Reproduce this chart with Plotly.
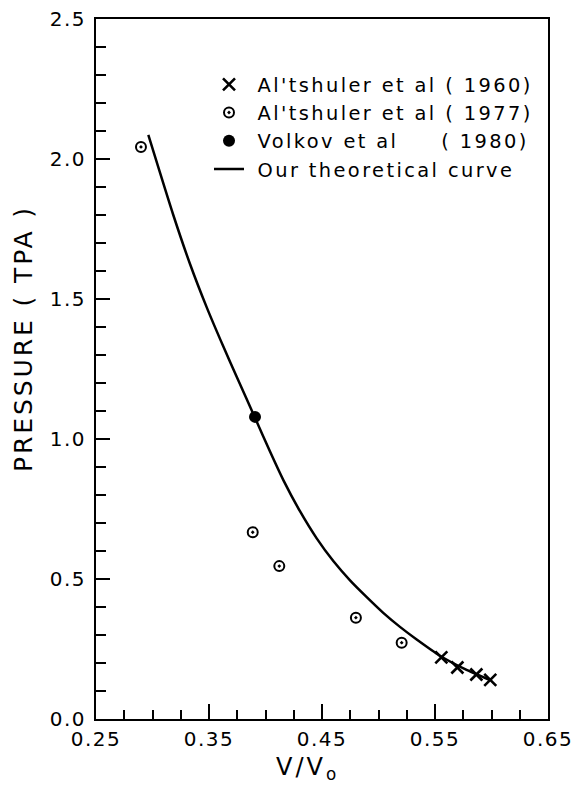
import plotly.graph_objects as go

# Data
x_1960 = [0.5556, 0.5698, 0.5866, 0.5989]
p_1960 = [0.220, 0.184, 0.159, 0.140]

x_1977 = [0.2898, 0.3887, 0.4122, 0.4800, 0.5205]
p_1977 = [2.043, 0.667, 0.546, 0.362, 0.2725]

x_1980 = [0.3907]
p_1980 = [1.079]

x_curve = [0.2963, 0.3184, 0.3332, 0.3480, 0.3627, 0.3745, 0.3907, 0.4040,
           0.4158, 0.4305, 0.4453, 0.4600, 0.4748, 0.4896, 0.5042, 0.5190,
           0.5338, 0.5544, 0.5766, 0.5987]
p_curve = [2.086, 1.800, 1.625, 1.470, 1.330, 1.222, 1.076, 0.955,
           0.853, 0.742, 0.645, 0.564, 0.495, 0.435, 0.379, 0.329,
           0.284, 0.226, 0.178, 0.139]

x_ticks = [0.25, 0.35, 0.45, 0.55, 0.65]
y_ticks = [0.0, 0.5, 1.0, 1.5, 2.0, 2.5]

legend_names = ["Al'tshuler et al ( 1960)",
                "Al'tshuler et al ( 1977)",
                "Volkov et al\u00a0\u00a0\u00a0\u00a0\u00a0( 1980)",
                "Our theoretical curve"]

FONT = "DejaVu Sans"


def spaced(s, px):
    return f'<span style="letter-spacing:{px}px">{s}</span>'


def lname(s):
    return spaced("\u00a0" + s, 2.4)


fig = go.Figure()
fig.add_trace(go.Scatter(
    x=x_1960, y=p_1960, mode="markers", name=lname(legend_names[0]),
    marker=dict(symbol="x-thin-open", size=12, color="black",
                line=dict(width=2.6, color="black"))))
fig.add_trace(go.Scatter(
    x=x_1977, y=p_1977, mode="markers", name=lname(legend_names[1]),
    marker=dict(symbol="circle-open-dot", size=10, color="black",
                line=dict(width=2, color="black"))))
fig.add_trace(go.Scatter(
    x=x_1980, y=p_1980, mode="markers", name=lname(legend_names[2]),
    marker=dict(symbol="circle", size=12, color="black")))
fig.add_trace(go.Scatter(
    x=x_curve, y=p_curve, mode="lines", name=lname(legend_names[3]),
    line=dict(color="black", width=2.5, shape="spline", smoothing=0.6)))

fig.update_layout(
    width=573, height=782,
    margin=dict(l=88, r=33, t=11, b=71, autoexpand=False),
    paper_bgcolor="white", plot_bgcolor="white",
    font=dict(family=FONT, color="black", size=20),
    showlegend=True,
    legend=dict(x=0.25, y=0.934, xanchor="left", yanchor="top",
                bgcolor="rgba(0,0,0,0)", font=dict(size=19.4, family=FONT),
                tracegroupgap=0, itemsizing="trace"),
    xaxis=dict(range=[0.25, 0.65], tickvals=x_ticks,
               ticktext=[spaced(f"{v:.2f}", 1.5) for v in x_ticks],
               ticks="inside", ticklen=15, tickwidth=2, tickcolor="black",
               minor=dict(dtick=0.025, tick0=0.25, ticks="inside", ticklen=9,
                          tickwidth=2, tickcolor="black"),
               showline=True, linecolor="black", linewidth=2, mirror=True,
               showgrid=False, zeroline=False, automargin=False,
               ticklabeloverflow="allow",
               tickfont=dict(size=20, family=FONT), ticklabelstandoff=1),
    yaxis=dict(range=[0, 2.5], tickvals=y_ticks,
               ticktext=[spaced(f"{v:.1f}", 1.5) for v in y_ticks],
               ticks="inside", ticklen=14, tickwidth=2, tickcolor="black",
               minor=dict(dtick=0.1, tick0=0, ticks="inside", ticklen=10,
                          tickwidth=2, tickcolor="black"),
               showline=True, linecolor="black", linewidth=2, mirror=True,
               showgrid=False, zeroline=False, automargin=False,
               ticklabeloverflow="allow",
               tickfont=dict(size=20, family=FONT), ticklabelstandoff=4),
    annotations=[
        dict(text=spaced("PRESSURE ( TPA )", 2.9), textangle=-90,
             xref="paper", yref="paper",
             x=-0.159, y=0.543, xanchor="center", yanchor="middle",
             showarrow=False, font=dict(size=25, family=FONT)),
        dict(text=spaced("V/V", 3) + "<sub>o</sub>", xref="paper", yref="paper",
             x=0.465, y=-0.07, xanchor="center", yanchor="middle",
             showarrow=False, font=dict(size=24, family=FONT)),
    ],
)

fig.write_html("out.html")
